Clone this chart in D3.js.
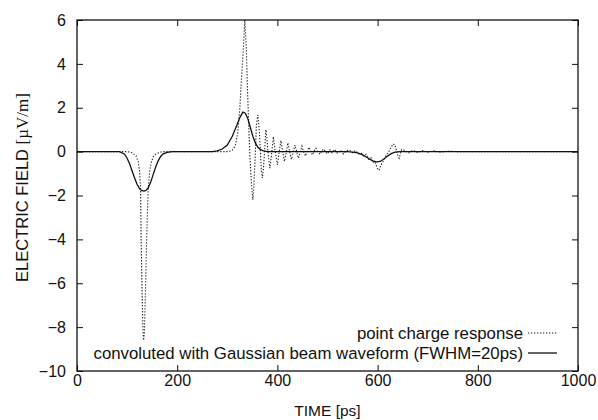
<!DOCTYPE html>
<html>
<head>
<meta charset="utf-8">
<script src="https://cdn.jsdelivr.net/npm/d3@7"></script>
<style>
  body { margin: 0; background: #fff; }
  svg text { font-family: "Liberation Sans", Arial, sans-serif; fill: #111; }
</style>
</head>
<body>
<div id="chart"></div>
<script>
// tick labels
var xTicks = [0, 200, 400, 600, 800, 1000];
var yTicks = [6, 4, 2, 0, -2, -4, -6, -8, -10];

// point charge response (dotted), time in ps / field in uV/m
var pointTime = [0, 100, 110, 118, 122, 125, 127, 128, 130, 132, 133, 134.5, 137, 139, 142, 145, 148, 152, 158, 170,
    300, 305, 309, 313, 317, 321, 325, 328, 332, 335, 338, 340, 342, 345, 348, 351, 353, 355, 358, 361, 364, 366,
    368, 370, 372, 374, 377, 379, 382, 385, 388, 392, 395, 400, 404, 407, 410, 414, 418, 421, 424, 428, 432, 435,
    438, 442, 446, 449, 452, 456, 460, 463, 466, 470, 474, 477, 481, 485, 489, 492, 496, 500, 505, 509, 514, 520,
    526, 532, 538, 544, 550, 556, 562, 567, 572, 577, 582, 587, 591, 595, 599, 603, 607, 611, 616, 621, 626, 631,
    635, 639, 643, 648, 655, 662, 670, 680, 690, 700, 712, 725, 740, 760, 780, 800, 1000];
var pointField = [0, 0, -0.05, -0.2, -0.45, -0.9, -1.75, -4, -6.5, -8.3, -8.6, -8.3, -6, -4, -1.75, -0.9, -0.5, -0.25, -0.1, 0,
    0, 0.02, 0.05, 0.15, 0.35, 0.9, 1.97, 3.2, 4.7, 6.0, 4.7, 3.0, 1.67, -0.15, -1.37, -2.2, -1.6, -0.6, 1.2, 1.67, 0.9, 0,
    -0.9, -1.2, -0.8, -0.15, 1.0, 0.6, -0.2, -0.75, -0.2, 0.68, 0.1, -0.6, 0.05, 0.5, 0.1, -0.45, 0, 0.4, 0.05, -0.35, 0, 0.3,
    0.05, -0.3, 0, 0.25, 0, -0.2, 0.05, 0.2, 0, -0.15, 0.05, 0.15, 0, -0.12, 0.05, 0.12, 0, -0.1, 0.08, -0.05, 0.1, -0.08,
    0.06, -0.1, 0.05, 0.08, -0.05, 0.05, -0.1, -0.05, -0.2, -0.12, -0.35, -0.28, -0.5, -0.45, -0.75, -0.85, -0.6, -0.45, -0.2, -0.05, 0.15, 0.35,
    0.3, -0.1, -0.3, 0.1, 0.05, -0.06, 0.06, -0.04, 0.05, -0.03, 0.04, -0.03, 0.02, 0, 0, 0, 0];

// convoluted with Gaussian beam waveform (solid)
var convTime = [0, 85, 95, 100, 105, 110, 115, 120, 125, 130, 134, 138, 142, 147, 152, 157, 162, 167, 172, 180, 190,
    270, 280, 290, 300, 310, 318, 325, 331, 336, 341, 346, 351, 356, 361, 366, 372, 380,
    540, 550, 560, 570, 580, 590, 598, 605, 612, 620, 628, 635, 645, 1000];
var convField = [0, 0, -0.12, -0.3, -0.55, -0.88, -1.2, -1.5, -1.7, -1.78, -1.8, -1.76, -1.65, -1.4, -1.05, -0.7, -0.42, -0.22, -0.1, -0.03, 0,
    0, 0.03, 0.12, 0.3, 0.7, 1.15, 1.55, 1.8, 1.75, 1.5, 1.1, 0.7, 0.4, 0.2, 0.1, 0.03, 0,
    0, -0.02, -0.06, -0.15, -0.28, -0.42, -0.47, -0.45, -0.35, -0.2, -0.08, -0.02, 0, 0];

var legendLabels = ["point charge response", "convoluted with Gaussian beam waveform (FWHM=20ps)"];

var W = 598, H = 420;
var margin = {top: 20, right: 20, bottom: 49, left: 77};
var width = W - margin.left - margin.right,
    height = H - margin.top - margin.bottom;

var svg = d3.select("#chart").append("svg")
    .attr("width", W)
    .attr("height", H);

var g = svg.append("g")
    .attr("transform", "translate(" + margin.left + "," + margin.top + ")");

var x = d3.scaleLinear().domain([0, 1000]).range([0, width]);
var y = d3.scaleLinear().domain([-10, 6]).range([height, 0]);

g.append("clipPath").attr("id", "clip")
  .append("rect").attr("width", width).attr("height", height);

// ticks on all four sides, pointing inward
var tickLen = 6;
function axisStyle(sel) {
    sel.select(".domain").remove();
    sel.selectAll(".tick line").attr("stroke", "#111").attr("stroke-width", 1);
    sel.selectAll(".tick text").style("font-size", "16px");
}

g.append("g")
    .attr("transform", "translate(0," + height + ")")
    .call(d3.axisBottom(x).tickValues(xTicks).tickSize(-tickLen).tickPadding(4).tickFormat(d3.format("d")))
    .call(axisStyle);
g.append("g")
    .call(d3.axisTop(x).tickValues(xTicks).tickSize(-tickLen).tickFormat(""))
    .call(axisStyle);
g.append("g")
    .call(d3.axisLeft(y).tickValues(yTicks).tickSize(-tickLen).tickPadding(11))
    .call(axisStyle);
g.append("g")
    .attr("transform", "translate(" + width + ",0)")
    .call(d3.axisRight(y).tickValues(yTicks).tickSize(-tickLen).tickFormat(""))
    .call(axisStyle);

g.selectAll(".tick text").attr("fill", "#111");

// frame
g.append("rect")
    .attr("width", width).attr("height", height)
    .attr("fill", "none").attr("stroke", "#111").attr("stroke-width", 1.3);

var line = d3.line()
    .x(function(d) { return x(d[0]); })
    .y(function(d) { return y(d[1]); });

var pointData = pointTime.map(function(t, i) { return [t, pointField[i]]; });
var convData = convTime.map(function(t, i) { return [t, convField[i]]; });

var plot = g.append("g").attr("clip-path", "url(#clip)");

plot.append("path")
    .datum(pointData)
    .attr("d", line)
    .attr("fill", "none")
    .attr("stroke", "#222")
    .attr("stroke-width", 1.1)
    .attr("stroke-dasharray", "1.3,1.7");

plot.append("path")
    .datum(convData)
    .attr("d", line)
    .attr("fill", "none")
    .attr("stroke", "#111")
    .attr("stroke-width", 1.3);

// legend (right aligned, bottom right of the plot)
var legend = g.append("g");
var legendY = [313, 333];
legendLabels.forEach(function(lbl, i) {
    legend.append("text")
        .attr("x", 446)
        .attr("y", legendY[i])
        .attr("dy", "0.35em")
        .attr("text-anchor", "end")
        .style("font-size", "16.8px")
        .text(lbl);
    legend.append("line")
        .attr("x1", 451).attr("x2", 480)
        .attr("y1", legendY[i]).attr("y2", legendY[i])
        .attr("stroke", "#111")
        .attr("stroke-width", i == 0 ? 1 : 1.3)
        .attr("stroke-dasharray", i == 0 ? "1.3,1.7" : null);
});

// axis titles
svg.append("text")
    .attr("x", margin.left + width / 2)
    .attr("y", 416)
    .attr("text-anchor", "middle")
    .style("font-size", "15.5px")
    .text("TIME [ps]");

var ylab = svg.append("text")
    .attr("transform", "translate(28," + (margin.top + height / 2 - 8) + ") rotate(-90)")
    .attr("text-anchor", "middle")
    .style("font-size", "16.5px");
ylab.append("tspan").text("ELECTRIC FIELD ");
ylab.append("tspan").style("font-family", "'Liberation Serif', serif").style("font-size", "17px").text("[\u00b5V/m]");
</script>
</body>
</html>
